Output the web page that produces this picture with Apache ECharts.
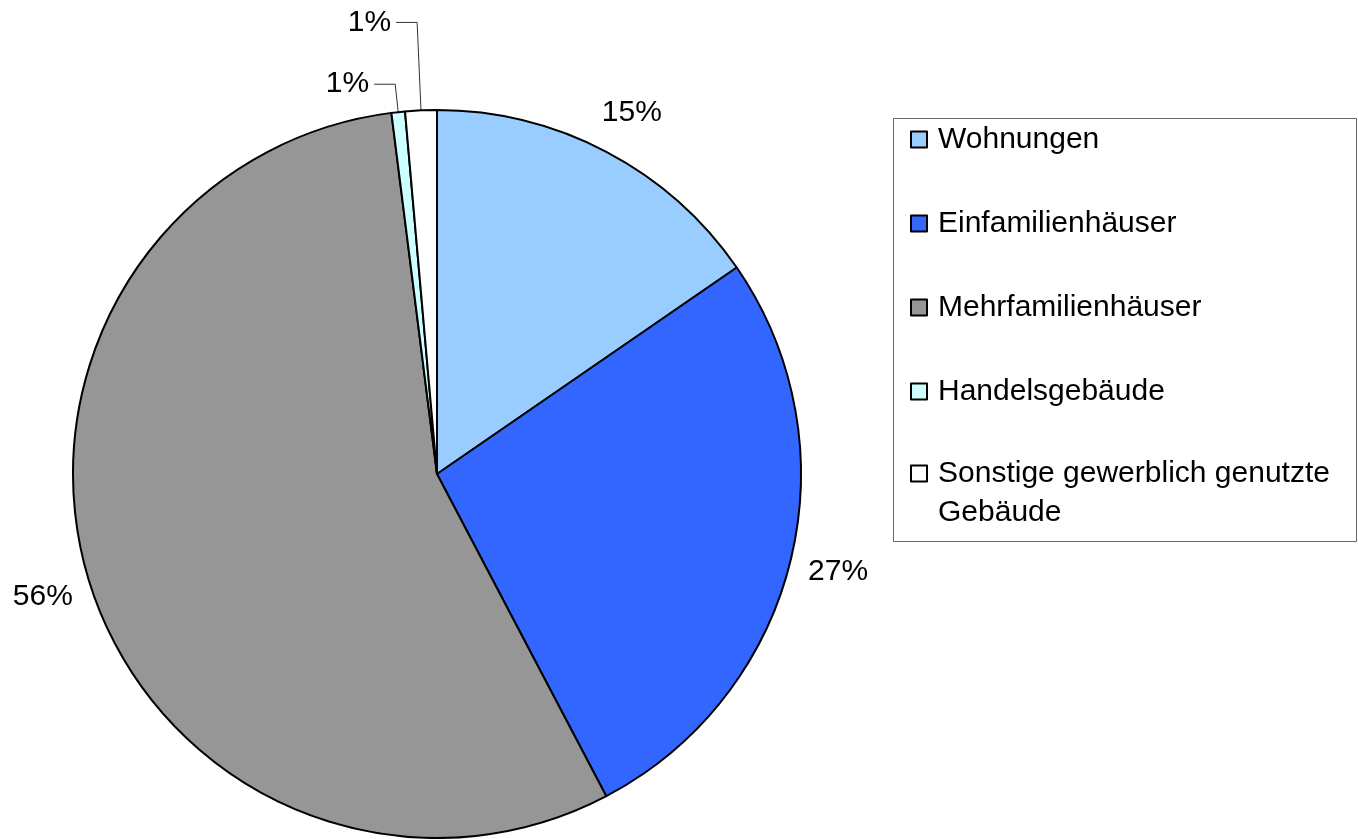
<!DOCTYPE html>
<html>
<head>
<meta charset="utf-8">
<script src="https://cdn.jsdelivr.net/npm/echarts@6/dist/echarts.min.js"></script>
<style>
  html, body { margin: 0; padding: 0; background: #fff; }
  #chart { width: 1358px; height: 839px; }
</style>
</head>
<body>
<div id="chart"></div>
<script>
// Anteile je Gebäudeart (Prozent)
var categories = ['Wohnungen', 'Einfamilienhäuser', 'Mehrfamilienhäuser', 'Handelsgebäude', 'Sonstige gewerblich genutzte\nGebäude'];
var shares = [15.4, 26.9, 55.7, 0.6, 1.4];
var colors = ['#99CCFF', '#3366FF', '#969696', '#CCFFFF', '#FFFFFF'];

// Führungslinien: nur die kleinen Segmente haben eine
var lineLen = [44, 44, 44, 28, 88];
var lineLen2 = [0, 0, 0, 21, 21];

var font = 'Liberation Sans, Arial, sans-serif';

function buildData() {
    return categories.map(function (name, i) {
        return {
            name: name,
            value: shares[i],
            itemStyle: { color: colors[i] },
            labelLine: {
                show: lineLen2[i] > 0,
                length: lineLen[i],
                length2: lineLen2[i]
            }
        };
    });
}

var legendText = {
    color: '#000',
    fontSize: 30,
    fontFamily: font,
    lineHeight: 39,
    padding: [0, 0, 0, 6]
};

var option = {
    animation: false,
    backgroundColor: '#fff',
    graphic: [{
        type: 'rect',
        shape: { x: 893.5, y: 118.5, width: 463, height: 423 },
        style: { fill: 'none', stroke: '#666', lineWidth: 1 },
        silent: true
    }],
    legend: [
        {
            orient: 'vertical',
            left: 910,
            top: 120,
            padding: 0,
            itemGap: 45,
            itemWidth: 16,
            itemHeight: 16,
            icon: 'rect',
            selectedMode: false,
            itemStyle: { borderColor: '#000', borderWidth: 2 },
            textStyle: legendText,
            data: categories.slice(0, 4)
        },
        {
            // eigene Legende, damit das Kästchen an der ersten Zeile steht
            orient: 'vertical',
            left: 910,
            top: 415,
            padding: 0,
            itemWidth: 16,
            itemHeight: 16,
            icon: 'rect',
            selectedMode: false,
            itemStyle: { borderColor: '#000', borderWidth: 2 },
            textStyle: legendText,
            formatter: function (name) { return '\n' + name; },
            data: [categories[4]]
        }
    ],
    series: [{
        type: 'pie',
        center: [437, 474],
        radius: 364,
        startAngle: 90,
        clockwise: true,
        avoidLabelOverlap: false,
        emphasis: { disabled: true },
        itemStyle: { borderColor: '#000', borderWidth: 2 },
        label: {
            position: 'outside',
            color: '#000',
            fontSize: 30,
            fontFamily: font,
            formatter: function (p) { return Math.round(p.percent) + '%'; }
        },
        labelLine: {
            lineStyle: { color: '#333', width: 1 }
        },
        labelLayout: function (p) {
            if (p.dataIndex < 3) {
                return { align: 'center' };
            }
        },
        data: buildData()
    }]
};

var chart = echarts.init(document.getElementById('chart'));
chart.setOption(option);
</script>
</body>
</html>
